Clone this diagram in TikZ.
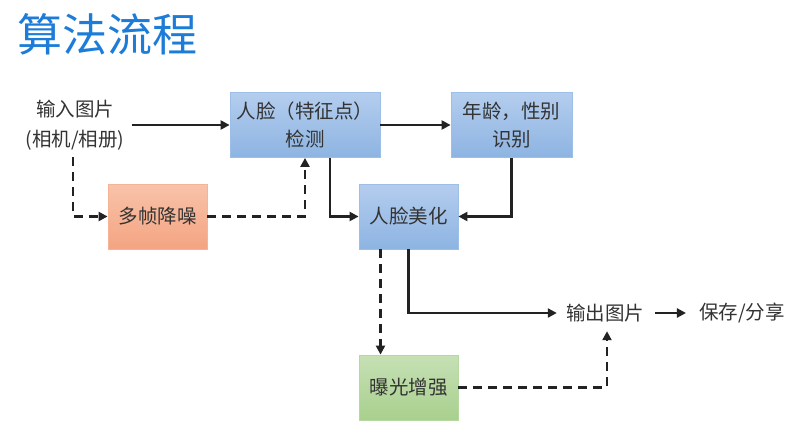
\documentclass[tikz,border=0pt]{standalone}
\usepackage{fontspec}
\newfontfamily\cjk{Noto Sans CJK SC}
\usetikzlibrary{arrows.meta,calc}
\definecolor{titleblue}{HTML}{1C7CD8}
\definecolor{txt}{HTML}{333333}
\definecolor{ln}{HTML}{222222}
\definecolor{btop}{HTML}{B4CDEE}
\definecolor{bbot}{HTML}{8DB4E2}
\definecolor{bdraw}{HTML}{9DBEE6}
\definecolor{otop}{HTML}{F8C3AA}
\definecolor{obot}{HTML}{F4A481}
\definecolor{odraw}{HTML}{F6B497}
\definecolor{gtop}{HTML}{C6E0B5}
\definecolor{gbot}{HTML}{A8D08D}
\definecolor{gdraw}{HTML}{B5D8A0}
\tikzset{
  box/.style={draw, line width=0.8pt, minimum height=65, align=center, inner sep=2pt,
    font=\cjk\fontsize{19.5}{28}\selectfont, text=txt},
  bluebox/.style={box, draw=bdraw, top color=btop, bottom color=bbot},
  orangebox/.style={box, draw=odraw, top color=otop, bottom color=obot},
  greenbox/.style={box, draw=gdraw, top color=gtop, bottom color=gbot},
  plain/.style={align=center, inner sep=3pt, font=\cjk\fontsize{19.5}{30}\selectfont, text=txt},
  arr/.style={draw=ln, line width=2.2pt, -{Triangle[length=9pt,width=9pt]}},
  dsh/.style={arr, dash pattern=on 9pt off 6pt}
}
\begin{document}
\begin{tikzpicture}[x=1pt,y=-1pt]
\useasboundingbox (0,0) rectangle (800,439);
\node[font=\cjk\fontsize{45}{50}\selectfont, text=titleblue, anchor=west] (title) at (14,34) {算法流程};
\node[plain] (in) at (75,125) {输入图片\\(相机/相册)};
\node[bluebox, minimum width=150] (det) at (305,125) {人脸（特征点）\\检测};
\node[bluebox, minimum width=121] (age) at (511.5,125) {年龄，性别\\识别};
\node[bluebox, minimum width=99] (beauty) at (408.5,216.5) {人脸美化};
\node[orangebox, minimum width=99] (noise) at (157.5,216.5) {多帧降噪};
\node[greenbox, minimum width=99] (expo) at (408.5,387.5) {曝光增强};
\node[plain] (out) at (605,313) {输出图片};
\node[plain] (save) at (742,313) {保存/分享};

\draw[arr, shorten <=4pt] (in.east) -- (in.east -| det.west);
\draw[arr] (det.east) -- (age.west);
\draw[arr] ([xshift=25]det.south) |- (beauty.west);
\draw[arr] (age.south) |- (beauty.east);
\draw[dsh, shorten <=4pt] ([xshift=-2]in.south) |- (noise.west);
\draw[dsh] (noise.east) -| (det.south);
\draw[dsh] ([xshift=-28]beauty.south) -- ([xshift=-28]expo.north);
\draw[arr, shorten >=6pt] (beauty.south) |- (out.west);
\draw[arr, shorten <=8pt, shorten >=10pt] (out.east) -- (save.west);
\draw[dsh, shorten >=6pt] (expo.east) -| ([xshift=2]out.south);
\end{tikzpicture}
\end{document}
